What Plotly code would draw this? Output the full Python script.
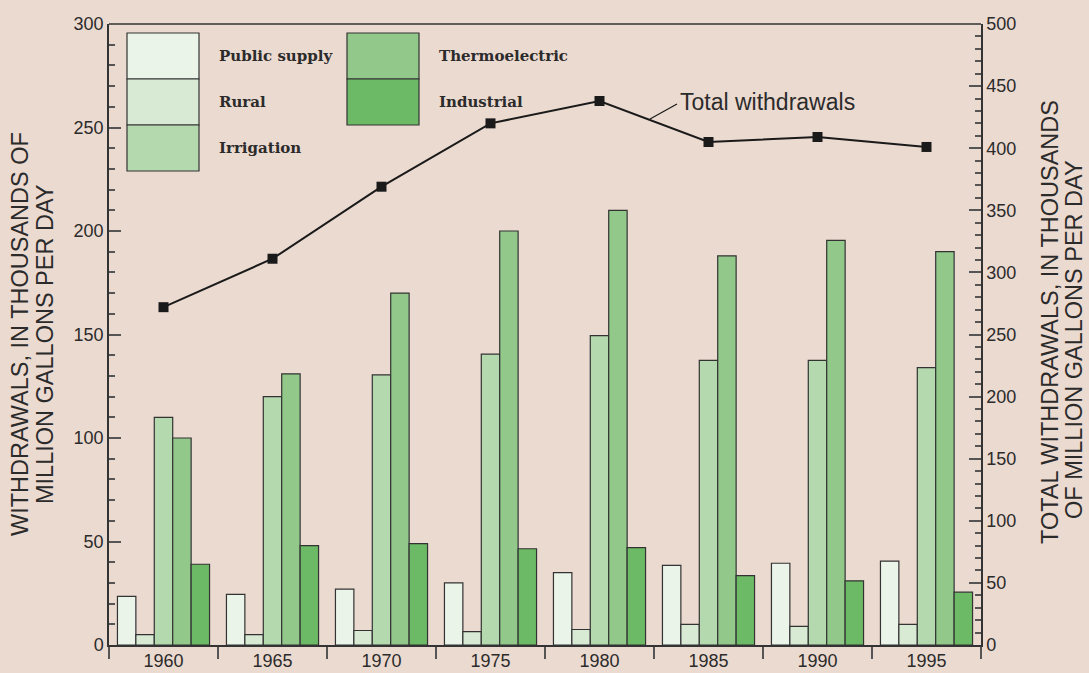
import plotly.graph_objects as go

years = ["1960", "1965", "1970", "1975", "1980", "1985", "1990", "1995"]
public_supply = [23.5, 24.5, 27, 30, 35, 38.5, 39.5, 40.5]
rural = [5, 5, 7, 6.5, 7.5, 10, 9, 10]
irrigation = [110, 120, 130.5, 140.5, 149.5, 137.5, 137.5, 134]
thermoelectric = [100, 131, 170, 200, 210, 188, 195.5, 190]
industrial = [39, 48, 49, 46.5, 47, 33.5, 31, 25.5]
total_withdrawals = [272, 311, 369, 420, 438, 405, 409, 401]

series_names = ["Public supply", "Rural", "Irrigation", "Thermoelectric", "Industrial"]
series_values = [public_supply, rural, irrigation, thermoelectric, industrial]
colors = ["#EAF4E8", "#D8EAD4", "#B5D9AE", "#92C98A", "#6CBA65"]

left_title = ["WITHDRAWALS, IN THOUSANDS OF", "MILLION GALLONS PER DAY"]
right_title = ["TOTAL WITHDRAWALS, IN THOUSANDS", "OF MILLION GALLONS PER DAY"]

BG = "#EBDAD0"
INK = "#2b2b2b"
W, H = 1089, 673
L, R, T, B = 109, 108, 24, 28
PW, PH = W - L - R, H - T - B

def px(x):
    return (x - L) / PW

def py(y):
    return (H - B - y) / PH

fig = go.Figure()
for name, vals, c in zip(series_names, series_values, colors):
    fig.add_trace(go.Bar(x=years, y=vals, name=name, marker=dict(color=c, line=dict(color="#333333", width=1.2)),
                         showlegend=False))

fig.add_trace(go.Scatter(x=years, y=total_withdrawals, yaxis="y2", mode="lines+markers", name="Total withdrawals",
                         line=dict(color="#1a1a1a", width=2),
                         marker=dict(symbol="square", size=10, color="#1a1a1a"), showlegend=False))

shapes = []
annotations = []
# custom legend boxes
left_col = series_names[:3]
right_col = series_names[3:]
rows = [(33, 79), (79, 125), (125, 171)]
for i, name in enumerate(left_col):
    y0, y1 = rows[i]
    shapes.append(dict(type="rect", xref="paper", yref="paper", x0=px(127), x1=px(199), y0=py(y1), y1=py(y0),
                       fillcolor=colors[i], line=dict(color="#333333", width=1.2)))
    annotations.append(dict(xref="paper", yref="paper", x=px(217), y=py((y0 + y1) / 2), text="<b>%s</b>" % name,
                            showarrow=False, xanchor="left", yanchor="middle",
                            font=dict(family="DejaVu Serif", size=15, color=INK)))
for j, name in enumerate(right_col):
    y0, y1 = rows[j]
    shapes.append(dict(type="rect", xref="paper", yref="paper", x0=px(347), x1=px(419), y0=py(y1), y1=py(y0),
                       fillcolor=colors[3 + j], line=dict(color="#333333", width=1.2)))
    annotations.append(dict(xref="paper", yref="paper", x=px(437), y=py((y0 + y1) / 2), text="<b>%s</b>" % name,
                            showarrow=False, xanchor="left", yanchor="middle",
                            font=dict(family="DejaVu Serif", size=15, color=INK)))

# leader line for total withdrawals label
shapes.append(dict(type="line", xref="paper", yref="paper", x0=px(650), y0=py(119), x1=px(677), y1=py(104),
                   line=dict(color="#1a1a1a", width=1.2)))
annotations.append(dict(xref="paper", yref="paper", x=px(678), y=py(102), text="Total withdrawals",
                        showarrow=False, xanchor="left", yanchor="middle",
                        font=dict(family="Liberation Sans", size=23, color=INK)))

# axis titles as rotated annotations (tight line spacing like the original)
for text, (cx, cy) in zip(left_title + right_title, [(20, 334), (45, 344), (1050, 322), (1074, 340)]):
    annotations.append(dict(xref="paper", yref="paper", x=px(cx), y=py(cy), text=text, textangle=-90,
                            showarrow=False, xanchor="center", yanchor="middle",
                            font=dict(family="Liberation Sans", size=23.5, color=INK)))

# top frame line
shapes.append(dict(type="line", xref="paper", yref="paper", x0=0, x1=1, y0=1, y1=1,
                   line=dict(color="#333333", width=1.5)))

fig.update_layout(
    width=W, height=H,
    margin=dict(l=L, r=R, t=T, b=B, autoexpand=False),
    paper_bgcolor=BG, plot_bgcolor=BG,
    barmode="group", bargap=0.155, bargroupgap=0,
    shapes=shapes, annotations=annotations,
    font=dict(family="Liberation Sans", color=INK),
    xaxis=dict(type="category", tickson="boundaries", ticks="outside", ticklen=12, tickwidth=1.5,
               tickcolor="#555555", showline=True, linecolor="#333333", linewidth=1.5, automargin=False,
               ticklabelstandoff=-1,
               showgrid=False, tickfont=dict(size=18, color=INK)),
    yaxis=dict(range=[0, 300], dtick=50, ticks="inside", ticklen=12, tickwidth=1.5, tickcolor="#555555",
               minor=dict(dtick=10, ticks="inside", ticklen=6, tickwidth=1.5, tickcolor="#555555"),
               showline=True, linecolor="#333333", linewidth=1.5, showgrid=False, zeroline=False,
               automargin=False, tickfont=dict(size=18, color=INK)),
    yaxis2=dict(range=[0, 500], dtick=50, overlaying="y", side="right", ticks="inside", ticklen=12,
                tickwidth=1.5, tickcolor="#555555",
                minor=dict(dtick=10, ticks="inside", ticklen=6, tickwidth=1.5, tickcolor="#555555"),
                showline=True, linecolor="#333333", linewidth=1.5, showgrid=False, zeroline=False,
                automargin=False, tickfont=dict(size=18, color=INK)),
)

fig.write_html("out.html", config={"displayModeBar": False},
               post_script="document.body.style.margin='0';document.body.style.overflow='hidden';"
                           "document.body.style.background='%s';" % BG)
